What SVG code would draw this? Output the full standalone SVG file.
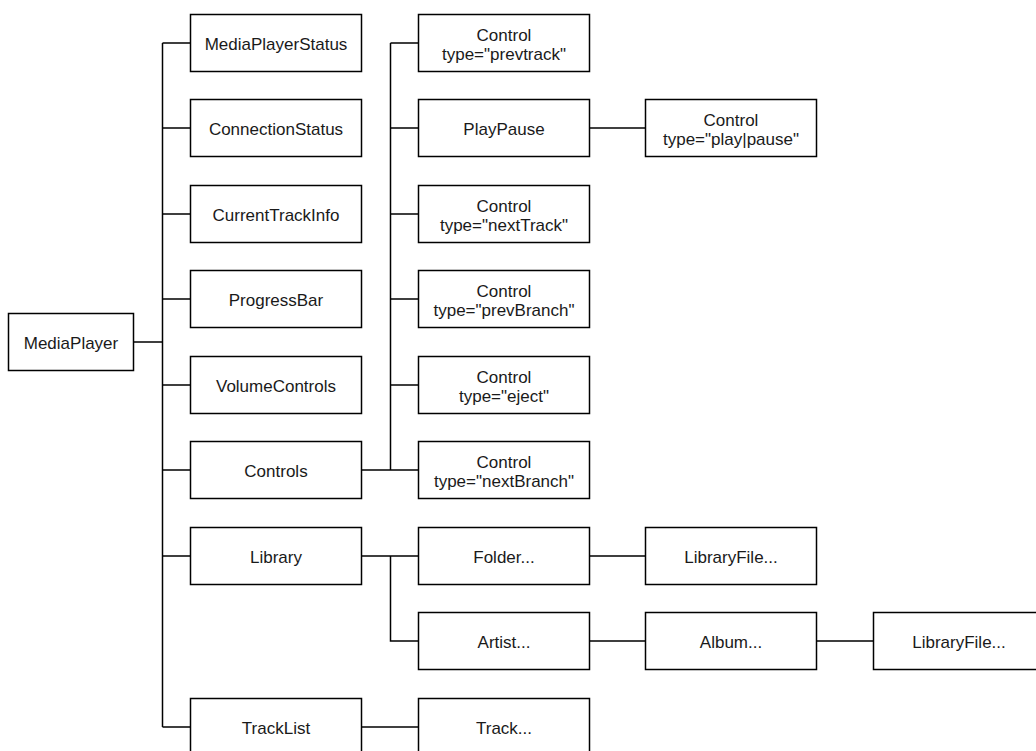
<svg xmlns="http://www.w3.org/2000/svg" width="1036" height="751" viewBox="0 0 1036 751">
<style>
.box{fill:#fff;stroke:#000;stroke-width:1.5}
.t{font-family:"Liberation Sans",Arial,sans-serif;font-size:17px;fill:#1a1a1a;text-anchor:middle}
.c{fill:none;stroke:#000;stroke-width:1.5}
</style>
<rect width="1036" height="751" fill="#fff"/>
<g id="connectors">
<path class="c" d="M133.5 342H162.5M162.5 43V727M162.5 43H190.5M162.5 128H190.5M162.5 214H190.5M162.5 299H190.5M162.5 385H190.5M162.5 470H190.5M162.5 556H190.5M162.5 727H190.5"/>
<path class="c" d="M361.5 470H418.5M390.5 43V470M390.5 43H418.5M390.5 128H418.5M390.5 214H418.5M390.5 299H418.5M390.5 385H418.5"/>
<path class="c" d="M589.5 128H645.5"/>
<path class="c" d="M361.5 556H418.5M390.5 556V641H418.5M589.5 556H645.5M589.5 641H645.5M816.5 641H873.5"/>
<path class="c" d="M361.5 727H418.5"/>
</g>
<g id="MediaPlayer"><rect class="box" x="8.5" y="313.5" width="125" height="57"/><text class="t" x="71" y="348.5">MediaPlayer</text></g>
<g id="MediaPlayerStatus"><rect class="box" x="190.5" y="14.5" width="171" height="57"/><text class="t" x="276" y="49.5">MediaPlayerStatus</text></g>
<g id="ConnectionStatus"><rect class="box" x="190.5" y="99.5" width="171" height="57"/><text class="t" x="276" y="134.5">ConnectionStatus</text></g>
<g id="CurrentTrackInfo"><rect class="box" x="190.5" y="185.5" width="171" height="57"/><text class="t" x="276" y="220.5">CurrentTrackInfo</text></g>
<g id="ProgressBar"><rect class="box" x="190.5" y="270.5" width="171" height="57"/><text class="t" x="276" y="305.5">ProgressBar</text></g>
<g id="VolumeControls"><rect class="box" x="190.5" y="356.5" width="171" height="57"/><text class="t" x="276" y="391.5">VolumeControls</text></g>
<g id="Controls"><rect class="box" x="190.5" y="441.5" width="171" height="57"/><text class="t" x="276" y="476.5">Controls</text></g>
<g id="Library"><rect class="box" x="190.5" y="527.5" width="171" height="57"/><text class="t" x="276" y="562.5">Library</text></g>
<g id="TrackList"><rect class="box" x="190.5" y="698.5" width="171" height="57"/><text class="t" x="276" y="733.5">TrackList</text></g>
<g id="ControlPrevtrack"><rect class="box" x="418.5" y="14.5" width="171" height="57"/><text class="t" x="504" y="40.5">Control</text><text class="t" x="504" y="59.5">type="prevtrack"</text></g>
<g id="PlayPause"><rect class="box" x="418.5" y="99.5" width="171" height="57"/><text class="t" x="504" y="134.5">PlayPause</text></g>
<g id="ControlNextTrack"><rect class="box" x="418.5" y="185.5" width="171" height="57"/><text class="t" x="504" y="211.5">Control</text><text class="t" x="504" y="230.5">type="nextTrack"</text></g>
<g id="ControlPrevBranch"><rect class="box" x="418.5" y="270.5" width="171" height="57"/><text class="t" x="504" y="296.5">Control</text><text class="t" x="504" y="315.5">type="prevBranch"</text></g>
<g id="ControlEject"><rect class="box" x="418.5" y="356.5" width="171" height="57"/><text class="t" x="504" y="382.5">Control</text><text class="t" x="504" y="401.5">type="eject"</text></g>
<g id="ControlNextBranch"><rect class="box" x="418.5" y="441.5" width="171" height="57"/><text class="t" x="504" y="467.5">Control</text><text class="t" x="504" y="486.5">type="nextBranch"</text></g>
<g id="Folder"><rect class="box" x="418.5" y="527.5" width="171" height="57"/><text class="t" x="504" y="562.5">Folder...</text></g>
<g id="Artist"><rect class="box" x="418.5" y="612.5" width="171" height="57"/><text class="t" x="504" y="647.5">Artist...</text></g>
<g id="Track"><rect class="box" x="418.5" y="698.5" width="171" height="57"/><text class="t" x="504" y="733.5">Track...</text></g>
<g id="ControlPlayPause"><rect class="box" x="645.5" y="99.5" width="171" height="57"/><text class="t" x="731" y="125.5">Control</text><text class="t" x="731" y="144.5">type="play|pause"</text></g>
<g id="LibraryFile1"><rect class="box" x="645.5" y="527.5" width="171" height="57"/><text class="t" x="731" y="562.5">LibraryFile...</text></g>
<g id="Album"><rect class="box" x="645.5" y="612.5" width="171" height="57"/><text class="t" x="731" y="647.5">Album...</text></g>
<g id="LibraryFile2"><rect class="box" x="873.5" y="612.5" width="171" height="57"/><text class="t" x="959" y="647.5">LibraryFile...</text></g>
</svg>
